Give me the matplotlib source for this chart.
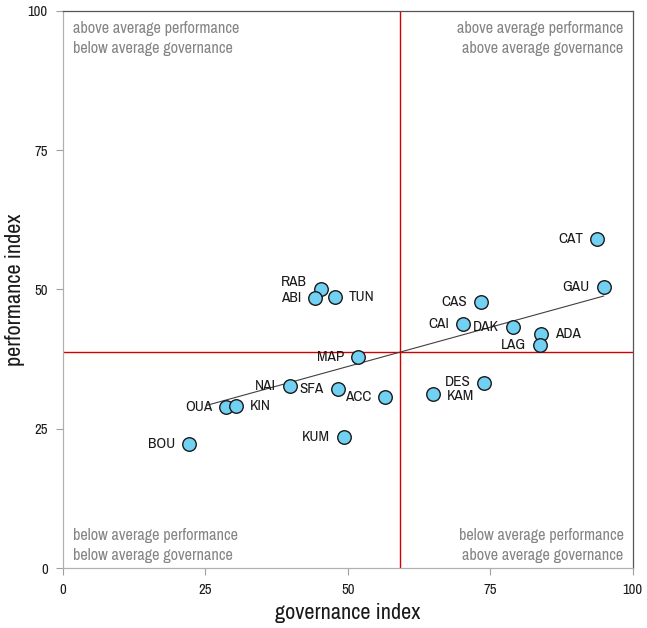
import matplotlib
matplotlib.use("Agg")
import matplotlib.pyplot as plt
import numpy as np
from matplotlib import font_manager

names = {f.name for f in font_manager.fontManager.ttflist}
FONT = next((f for f in ['Archivo Narrow', 'Roboto Condensed', 'PT Sans Narrow', 'Liberation Sans']
             if f in names), 'DejaVu Sans')
plt.rcParams['font.family'] = [FONT, 'DejaVu Sans']

cities = ["CAT", "GAU", "CAS", "CAI", "DAK", "ADA", "LAG", "DES", "KAM", "ACC",
          "SFA", "NAI", "MAP", "OUA", "KIN", "BOU", "KUM", "RAB", "ABI", "TUN"]
governance = [93.7, 94.9, 73.3, 70.2, 78.9, 83.9, 83.7, 73.9, 64.9, 56.5,
              48.2, 39.8, 51.8, 28.6, 30.4, 22.1, 49.3, 45.3, 44.2, 47.7]
performance = [59.1, 50.4, 47.8, 43.7, 43.2, 41.9, 40.1, 33.2, 31.2, 30.6,
               32.1, 32.6, 37.8, 28.9, 29.0, 22.2, 23.5, 50.0, 48.4, 48.6]
label_side = ["L", "L", "L", "L", "L", "R", "L", "L", "R", "L",
              "L", "L", "L", "L", "R", "L", "L", "L", "L", "R"]
label_dy = [0, 0, 0, 0, 0, 0, 0, 1, -1, 0,
            0, 0, 0, 0, 0, 0, 0, 5, 0, 0]
ticks = [0, 25, 50, 75, 100]
quadrant_texts = ["above average performance\nbelow average governance",
                  "above average performance\nabove average governance",
                  "below average performance\nbelow average governance",
                  "below average performance\nabove average governance"]
trend_range = [25.3, 94.9]

x = np.array(governance)
y = np.array(performance)

fig = plt.figure(figsize=(6.47, 6.28), dpi=100)
ax = fig.add_axes([0.0974, 0.0955, 0.8806, 0.8875])
ax.set_xlim(0, 100)
ax.set_ylim(0, 100)

mx, my = x.mean(), y.mean()
ax.axvline(mx, color='#d40000', lw=1.0, zorder=1)
ax.axhline(my, color='#d40000', lw=1.0, zorder=1)

k, b = np.polyfit(x, y, 1)
tx = np.array(trend_range)
ax.plot(tx, k * tx + b, color='#404040', lw=0.8, zorder=2)

ax.scatter(x, y, s=95, facecolor='#72d0f2', edgecolor='#1a1a1a', linewidth=1.0, zorder=3)

for c, gx, py, side, dy in zip(cities, governance, performance, label_side, label_dy):
    off = -10 if side == "L" else 10
    ax.annotate(c, (gx, py), xytext=(off, dy), textcoords='offset points',
                ha='right' if side == "L" else 'left', va='center',
                fontsize=11, color='#1a1a1a', zorder=4)

qc = '#858585'
qfs = 11.7
ls = 1.45
ax.text(0.018, 0.982, quadrant_texts[0], transform=ax.transAxes, ha='left', va='top',
        fontsize=qfs, color=qc, linespacing=ls)
ax.text(0.984, 0.982, quadrant_texts[1], transform=ax.transAxes, ha='right', va='top',
        fontsize=qfs, color=qc, linespacing=ls, multialignment='right')
ax.text(0.018, 0.009, quadrant_texts[2], transform=ax.transAxes, ha='left', va='bottom',
        fontsize=qfs, color=qc, linespacing=ls)
ax.text(0.984, 0.009, quadrant_texts[3], transform=ax.transAxes, ha='right', va='bottom',
        fontsize=qfs, color=qc, linespacing=ls, multialignment='right')

ax.set_xticks(ticks)
ax.set_yticks(ticks)
ax.tick_params(direction='out', length=5, width=0.8, color='#a0a0a0', labelsize=10.5,
               labelcolor='#1a1a1a', pad=6)
for s in ['left', 'bottom']:
    ax.spines[s].set_color('#b0b0b0')
    ax.spines[s].set_linewidth(0.9)
for s in ['top', 'right']:
    ax.spines[s].set_color('#555555')
    ax.spines[s].set_linewidth(0.9)

ax.set_xlabel('governance index', fontsize=16, color='#1a1a1a', labelpad=4)
ax.set_ylabel('performance index', fontsize=16, color='#1a1a1a', labelpad=2)

fig.savefig('out.png', dpi=100)
